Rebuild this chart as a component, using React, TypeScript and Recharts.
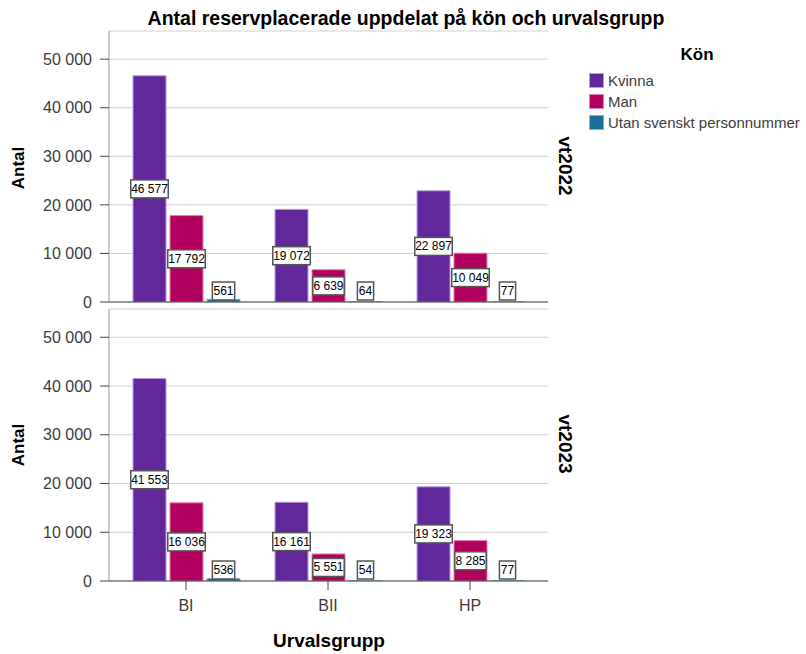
import { BarChart, Bar, XAxis, YAxis, CartesianGrid, LabelList } from "recharts";

const groups = ["BI", "BII", "HP"];
const seriesNames = ["Kvinna", "Man", "Utan svenskt personnummer"];
const kvinna2022 = [46577, 19072, 22897];
const man2022 = [17792, 6639, 10049];
const utan2022 = [561, 64, 77];
const kvinna2023 = [41553, 16161, 19323];
const man2023 = [16036, 5551, 8285];
const utan2023 = [536, 54, 77];
const yTicks = [0, 10000, 20000, 30000, 40000, 50000];

const colors = ["#62279b", "#b2005f", "#1b6e96"];
const outlines = ["#b99be0", "#e07fb0", "#7fb4cc"];
const font = "'Liberation Sans', Arial, sans-serif";

const rows2022 = groups.map((g, i) => ({ group: g, kvinna: kvinna2022[i], man: man2022[i], utan: utan2022[i] }));
const rows2023 = groups.map((g, i) => ({ group: g, kvinna: kvinna2023[i], man: man2023[i], utan: utan2023[i] }));

const fmt = (n: number) => String(n).replace(/\B(?=(\d{3})+(?!\d))/g, " ");

function ValueBox(props: any) {
  const { x, y, width, height, value } = props;
  const txt = fmt(Number(value));
  const digits = txt.replace(/ /g, "").length;
  const spaces = txt.length - digits;
  const w = digits * 6.1 + spaces * 3 + 4;
  const h = 18;
  const base = y + height;
  const cy = Math.min(y + height / 2, base - 2 - h / 2);
  const cx = x + width / 2;
  return (
    <g>
      <rect x={cx - w / 2} y={cy - h / 2} width={w} height={h} fill="#fff" stroke="#555" strokeWidth={1.5} />
      <text x={cx} y={cy} textAnchor="middle" dominantBaseline="central" fontSize={12} fontFamily={font} fill="#000">
        {txt}
      </text>
    </g>
  );
}

const keys = ["kvinna", "man", "utan"];

function Panel({ data, bottom }: { data: any[]; bottom: boolean }) {
  return (
    <BarChart
      width={560}
      height={bottom ? 354 : 314}
      data={data}
      margin={bottom ? { top: 9, right: 12, left: 0, bottom: 33 } : { top: 31, right: 12, left: 0, bottom: 10 }}
      barSize={33}
      barGap={4}
    >
      <CartesianGrid vertical={false} stroke="#d2d2d2" />
      <XAxis
        dataKey="group"
        height={bottom ? 40 : 2}
        padding={{ left: 6, right: 7 }}
        tick={bottom ? { fontSize: 16, fill: "#3c3c3c", fontFamily: font } : false}
        tickLine={bottom ? { stroke: "#444" } : false}
        tickSize={9}
        tickMargin={10}
        axisLine={{ stroke: "#444" }}
      />
      <YAxis
        width={109}
        domain={[0, 55800]}
        ticks={yTicks}
        allowDataOverflow
        tickFormatter={fmt}
        tick={{ fontSize: 16, fill: "#3c3c3c", fontFamily: font }}
        tickLine={{ stroke: "#444" }}
        tickSize={9}
        tickMargin={8}
        axisLine={{ stroke: "#999" }}
      />
      {keys.map((k, i) => (
        <Bar key={k} dataKey={k} fill={colors[i]} stroke={outlines[i]} strokeWidth={1} isAnimationActive={false}>
          <LabelList dataKey={k} content={ValueBox} />
        </Bar>
      ))}
    </BarChart>
  );
}

const abs = (s: React.CSSProperties): React.CSSProperties => ({ position: "absolute", ...s });

export default function App() {
  return (
    <div style={{ position: "absolute", left: 0, top: 0, width: 806, height: 654, background: "#fff", fontFamily: font, overflow: "hidden" }}>
      <div style={abs({ left: 0, top: 0 })}>
        <Panel data={rows2022} bottom={false} />
      </div>
      <div style={abs({ left: 0, top: 300 })}>
        <Panel data={rows2023} bottom={true} />
      </div>

      <div style={abs({ left: 406, top: 18, transform: "translate(-50%, -50%)", fontWeight: "bold", fontSize: 19.5, whiteSpace: "nowrap" })}>
        Antal reservplacerade uppdelat på kön och urvalsgrupp
      </div>

      {[168, 445].map((cy) => (
        <div
          key={cy}
          style={abs({ left: 19, top: cy, transform: "translate(-50%, -50%) rotate(-90deg)", fontWeight: "bold", fontSize: 17, whiteSpace: "nowrap" })}
        >
          Antal
        </div>
      ))}

      {[
        ["vt2022", 166],
        ["vt2023", 444],
      ].map(([t, cy]) => (
        <div
          key={t as string}
          style={abs({ left: 565, top: cy as number, transform: "translate(-50%, -50%)", writingMode: "vertical-rl", fontWeight: "bold", fontSize: 19, whiteSpace: "nowrap" })}
        >
          {t}
        </div>
      ))}

      <div style={abs({ left: 329, top: 641, transform: "translate(-50%, -50%)", fontWeight: "bold", fontSize: 19, whiteSpace: "nowrap" })}>
        Urvalsgrupp
      </div>

      <div style={abs({ left: 697, top: 55, transform: "translate(-50%, -50%)", fontWeight: "bold", fontSize: 17 })}>Kön</div>
      {seriesNames.map((n, i) => (
        <div key={n} style={abs({ left: 589, top: 73 + i * 21, height: 15, display: "flex", alignItems: "center", whiteSpace: "nowrap" })}>
          <span style={{ width: 15, height: 15, background: colors[i], boxSizing: "border-box", border: "1px solid " + outlines[i], marginRight: 4 }} />
          <span style={{ fontSize: 15, color: "#3c3c3c" }}>{n}</span>
        </div>
      ))}
    </div>
  );
}
